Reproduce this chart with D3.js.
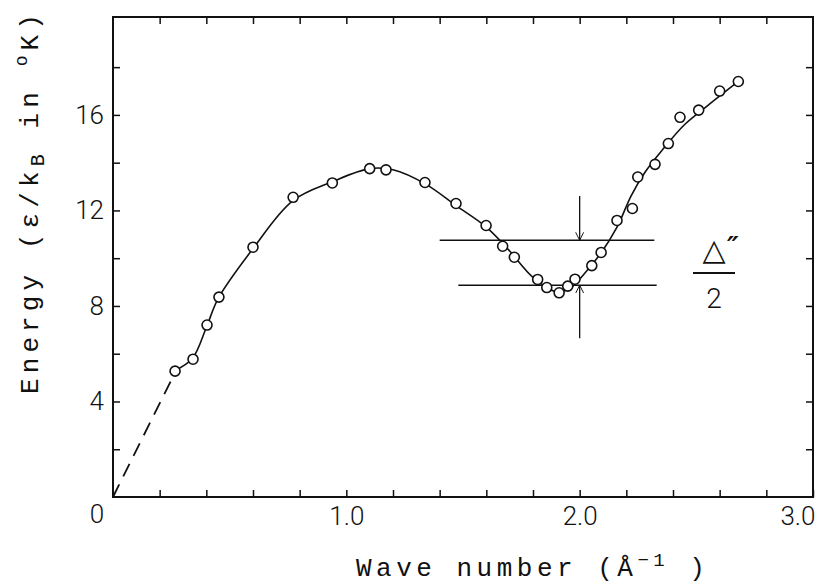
<!DOCTYPE html>
<html>
<head>
<meta charset="utf-8">
<script src="https://cdn.jsdelivr.net/npm/d3@7"></script>
<style>
  body { margin: 0; background: #fff; }
  .tick text { font-family: Roboto, "Liberation Sans", sans-serif; font-weight: 300; }
  .title { font-family: "Liberation Mono", monospace; }
</style>
</head>
<body>
<svg width="824" height="585"></svg>
<script>
// measured points (wave number in 1/A, energy in K)
var waveNumber = [0.266, 0.343, 0.403, 0.454, 0.600, 0.772, 0.94, 1.10, 1.17, 1.337, 1.470, 1.599, 1.670, 1.720, 1.820, 1.859, 1.912, 1.949, 1.980, 2.052, 2.092, 2.160, 2.226, 2.249, 2.323, 2.38, 2.43, 2.51, 2.60, 2.68];
var energy = [5.27, 5.77, 7.2, 8.37, 10.46, 12.55, 13.15, 13.75, 13.7, 13.17, 12.29, 11.37, 10.50, 10.04, 9.11, 8.77, 8.55, 8.83, 9.12, 9.69, 10.24, 11.58, 12.08, 13.40, 13.93, 14.8, 15.9, 16.2, 17.0, 17.4];

// the drawn smooth curve
var curveK = [0.266, 0.34, 0.40, 0.45, 0.60, 0.77, 0.94, 1.10, 1.20, 1.34, 1.47, 1.60, 1.70, 1.80, 1.90, 1.96, 2.02, 2.09, 2.16, 2.22, 2.28, 2.36, 2.45, 2.55, 2.68];
var curveE = [5.3, 5.8, 7.1, 8.3, 10.4, 12.4, 13.2, 13.75, 13.7, 13.1, 12.2, 11.3, 10.3, 9.2, 8.6, 8.75, 9.35, 10.2, 11.3, 12.6, 13.6, 14.6, 15.6, 16.4, 17.4];
var dashK = [0, 0.25];
var dashE = [0, 4.9];

// the delta''/2 marker lines
var levelE = [10.75, 8.87];
var levelFrom = [1.40, 1.48];
var levelTo = [2.32, 2.33];
var arrowK = 2.0;
var arrowTail = [12.6, 6.65];

var xMinor = d3.range(1, 15).map(function(i){ return i / 5; });
var xLabels = [1, 2, 3];
var yMinor = [2, 4, 6, 8, 10, 12, 14, 16, 18];
var yLabels = [4, 8, 12, 16];

var svg = d3.select('svg'),
	width = +svg.attr('width'),
	height = +svg.attr('height');

var x = d3.scaleLinear().domain([0, 3]).range([113, 813]);
var y = d3.scaleLinear().domain([0, 20.1]).range([497, 17]);

svg.append('defs').append('marker')
	.attr('id', 'head')
	.attr('viewBox', '0 0 10 10')
	.attr('refX', 10).attr('refY', 5)
	.attr('markerWidth', 8).attr('markerHeight', 10)
	.attr('markerUnits', 'userSpaceOnUse')
	.attr('orient', 'auto')
	.append('path')
	.attr('d', 'M0,0 L10,5 L0,10')
	.attr('fill', 'none').attr('stroke', '#111').attr('stroke-width', 1.2);

// frame
svg.append('rect')
	.attr('x', x(0)).attr('y', y(20.1))
	.attr('width', x(3) - x(0)).attr('height', y(0) - y(20.1))
	.attr('fill', 'none').attr('stroke', '#111').attr('stroke-width', 2);

var fmtX = function(d){ return xLabels.indexOf(d) >= 0 ? d.toFixed(1) : ''; };
var fmtY = function(d){ return yLabels.indexOf(d) >= 0 ? d : ''; };

var gx = svg.append('g')
	.attr('transform', 'translate(0,' + y(0) + ')')
	.call(d3.axisBottom(x).tickValues(xMinor.concat([3])).tickSize(-7).tickPadding(10).tickFormat(fmtX));
svg.append('g')
	.attr('transform', 'translate(0,' + y(20.1) + ')')
	.call(d3.axisTop(x).tickValues(xMinor).tickSize(-7).tickFormat(''));
svg.append('g')
	.attr('transform', 'translate(' + x(0) + ',0)')
	.call(d3.axisLeft(y).tickValues(yMinor).tickSize(-7).tickPadding(9).tickFormat(fmtY));
svg.append('g')
	.attr('transform', 'translate(' + x(3) + ',0)')
	.call(d3.axisRight(y).tickValues(yMinor).tickSize(-7).tickFormat(''));

svg.selectAll('.domain').remove();
svg.selectAll('.tick line').attr('stroke', '#111').attr('stroke-width', 1.5);
svg.selectAll('.tick text').attr('font-size', 26).attr('fill', '#111');
// 3.0 sits left of the corner
gx.selectAll('.tick text').filter(function(d){ return d === 3; }).attr('text-anchor', 'end').attr('dx', 2);

// shared zero at the corner
svg.append('text')
	.attr('x', x(0) - 16).attr('y', y(0) + 26)
	.attr('text-anchor', 'middle')
	.attr('font-family', 'Roboto, "Liberation Sans", sans-serif')
	.attr('font-weight', 300)
	.attr('font-size', 26).attr('fill', '#111')
	.text('0');

// dashed start
var line = d3.line()
	.x(function(d){ return x(d[0]); })
	.y(function(d){ return y(d[1]); });

svg.append('path')
	.attr('d', line(d3.zip(dashK, dashE)))
	.attr('fill', 'none').attr('stroke', '#111').attr('stroke-width', 1.8)
	.attr('stroke-dasharray', '14,9');

svg.append('path')
	.attr('d', line.curve(d3.curveCatmullRom)(d3.zip(curveK, curveE)))
	.attr('fill', 'none').attr('stroke', '#111').attr('stroke-width', 1.6);

// level lines and arrows
svg.selectAll('.level')
	.data(levelE)
	.enter().append('line')
	.attr('x1', function(d, i){ return x(levelFrom[i]); })
	.attr('x2', function(d, i){ return x(levelTo[i]); })
	.attr('y1', function(d){ return y(d); })
	.attr('y2', function(d){ return y(d); })
	.attr('stroke', '#111').attr('stroke-width', 1.5);

svg.selectAll('.arrow')
	.data(arrowTail)
	.enter().append('line')
	.attr('x1', x(arrowK)).attr('x2', x(arrowK))
	.attr('y1', function(d){ return y(d); })
	.attr('y2', function(d, i){ return y(levelE[i]); })
	.attr('stroke', '#111').attr('stroke-width', 1.3)
	.attr('marker-end', 'url(#head)');

svg.selectAll('.pt')
	.data(d3.zip(waveNumber, energy))
	.enter().append('circle')
	.attr('cx', function(d){ return x(d[0]); })
	.attr('cy', function(d){ return y(d[1]); })
	.attr('r', 5)
	.attr('fill', '#fff').attr('stroke', '#111').attr('stroke-width', 1.6);

// delta''/2
var lab = svg.append('g').attr('transform', 'translate(714,0)');
lab.append('text')
	.attr('x', 0).attr('y', 260)
	.attr('text-anchor', 'middle')
	.attr('font-family', '"DejaVu Sans", sans-serif')
	.attr('font-size', 30).attr('fill', '#111')
	.text('\u25B3');
lab.append('text')
	.attr('x', 13).attr('y', 256)
	.attr('font-family', '"DejaVu Sans", sans-serif')
	.attr('font-weight', 'bold').attr('font-style', 'italic')
	.attr('font-size', 26).attr('fill', '#111')
	.text('\u2033');
lab.append('line')
	.attr('x1', -21).attr('x2', 21).attr('y1', 273).attr('y2', 273)
	.attr('stroke', '#111').attr('stroke-width', 2);
lab.append('text')
	.attr('x', 0).attr('y', 308)
	.attr('text-anchor', 'middle')
	.attr('font-family', 'Roboto, "Liberation Sans", sans-serif')
	.attr('font-weight', 300)
	.attr('font-size', 28).attr('fill', '#111')
	.text('2');

// axis titles
var xt = svg.append('text')
	.attr('class', 'title')
	.attr('x', 356).attr('y', 576)
	.attr('font-size', 26).attr('letter-spacing', 4.5).attr('fill', '#111');
xt.append('tspan').text('Wave number (\u00C5');
xt.append('tspan').attr('font-size', 19).attr('baseline-shift', '55%').text('\u22121');
xt.append('tspan').attr('baseline-shift', '0%').text(' )');

var yt = svg.append('text')
	.attr('class', 'title')
	.attr('transform', 'translate(38,394) rotate(-90)')
	.attr('font-size', 26).attr('letter-spacing', 5.1).attr('fill', '#111');
yt.append('tspan').text('Energy (\u03B5/k');
yt.append('tspan').attr('font-size', 20).attr('baseline-shift', '-30%').text('B');
yt.append('tspan').text(' in ');
yt.append('tspan').attr('font-size', 18).attr('baseline-shift', '60%').text('o');
yt.append('tspan').text('K)');
</script>
</body>
</html>
